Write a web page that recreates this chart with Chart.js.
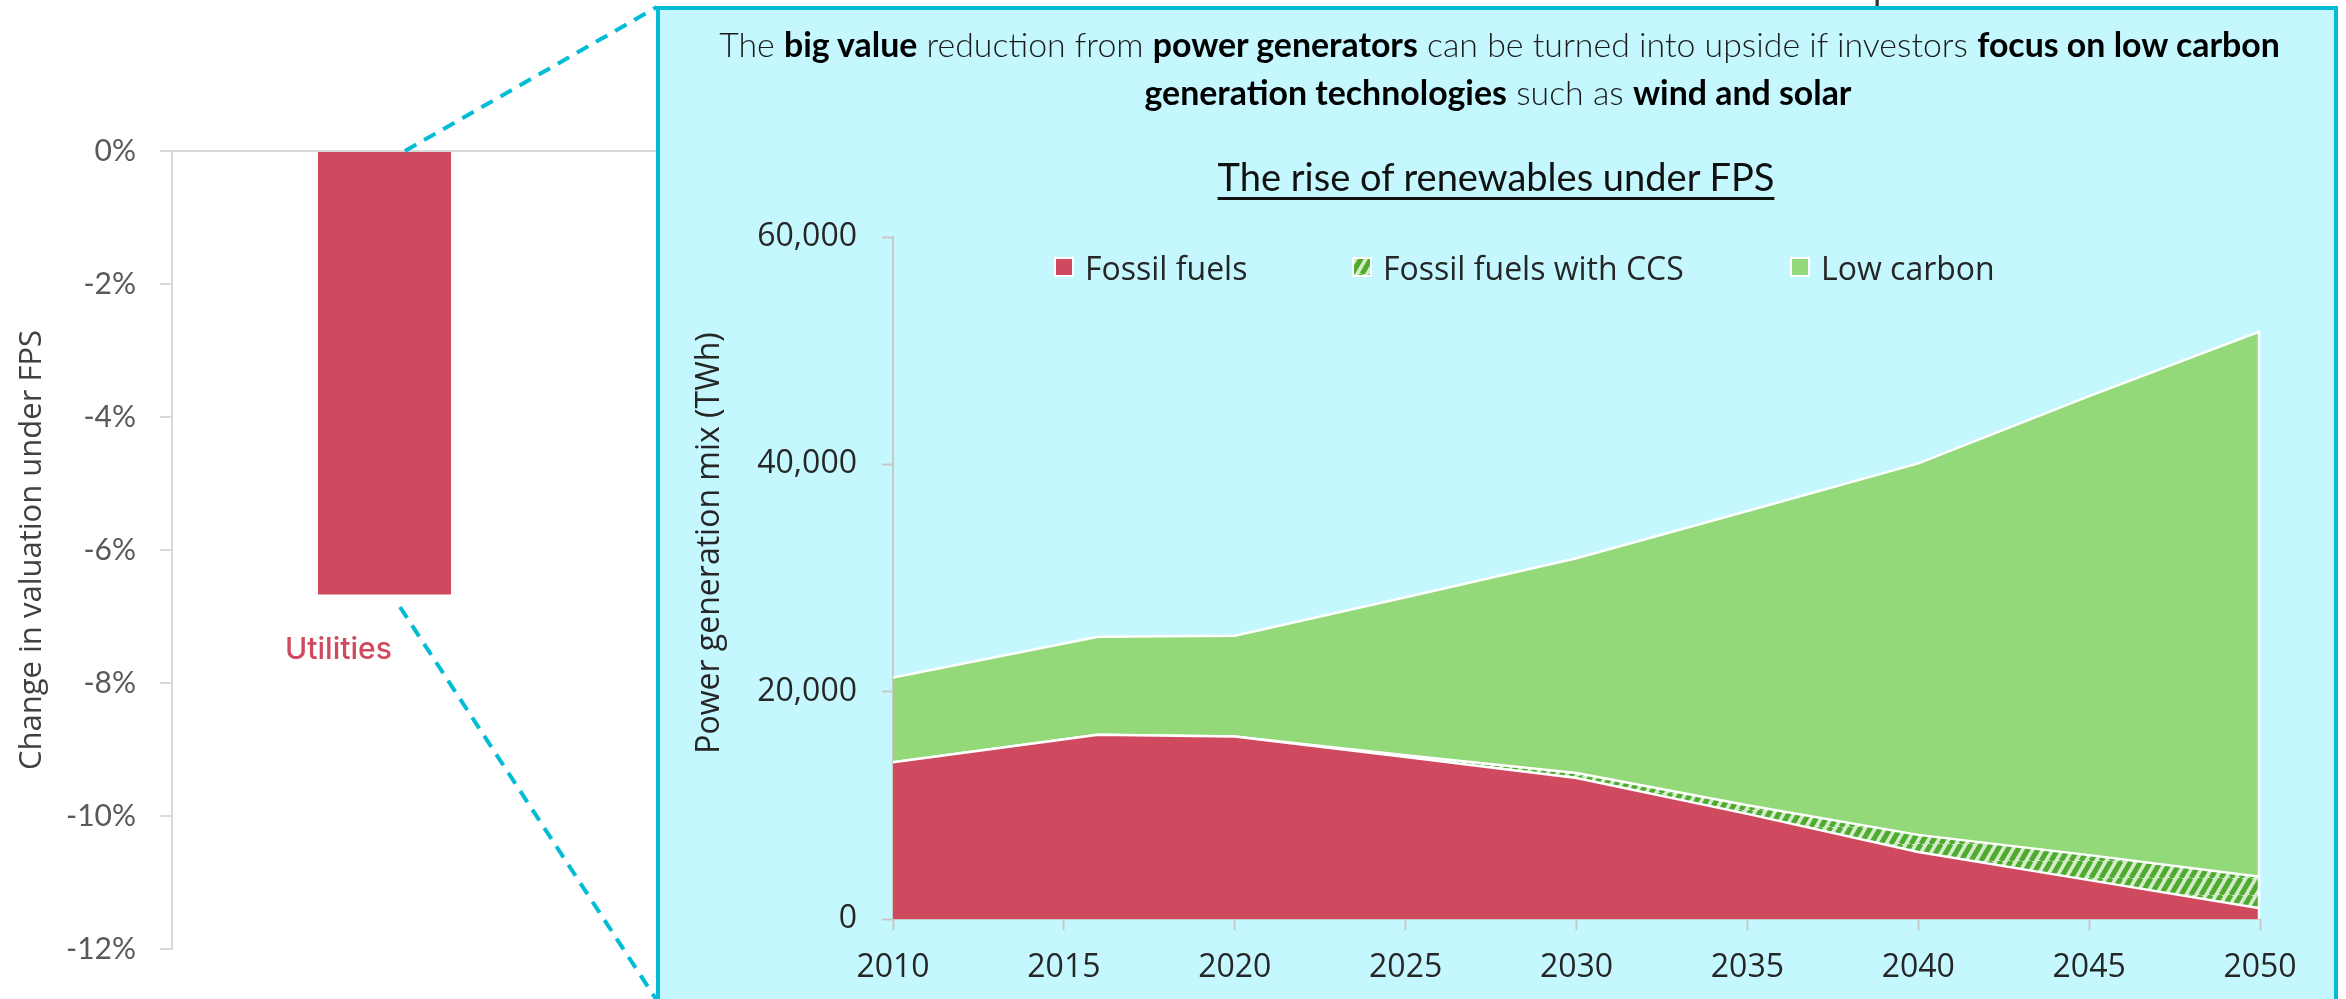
<!DOCTYPE html>
<html lang="en">
<head>
<meta charset="UTF-8">
<meta name="viewport" content="width=device-width, initial-scale=1.0">
<title>Utilities under FPS - power generation mix</title>
<script src="https://cdn.jsdelivr.net/npm/chart.js"></script>
<style>
  html, body { margin: 0; padding: 0; }
  body { position: relative; width: 2346px; height: 999px; overflow: hidden; background: #ffffff; }
  #valuationChart { position: absolute; left: 0; top: 0; z-index: 1; }
  #callouts { position: absolute; left: 0; top: 0; z-index: 2; }
  #cutGlyph { position: absolute; z-index: 2; white-space: nowrap; line-height: normal; font-family: Lato, sans-serif; font-size: 36px; color: #333; }
  #panel { position: absolute; left: 656px; top: 6px; width: 1674px; height: 1100px; border: 4px solid #00bcd4; background: #c4f8fe; z-index: 3; }
  #mixChart { position: absolute; left: 661px; top: 11px; z-index: 4; }
  .txt { position: absolute; z-index: 5; white-space: nowrap; line-height: normal; }
  .sub { font-family: Lato, sans-serif; font-weight: 300; font-size: 32px; color: #1a1a1a; }
  .sub b { font-weight: 700; color: #000; }
  #mixTitle { font-family: Lato, sans-serif; font-size: 36px; color: #111; text-decoration: underline; text-decoration-thickness: 3px; text-underline-offset: 6px; }
  #sectorLabel { font-family: Inter, sans-serif; font-weight: 500; font-size: 36px; color: #d04a5f; }
  #mixLegend { position: absolute; left: 0; top: 247px; z-index: 5; }
  .legend-item { position: absolute; top: 0; height: 40px; display: flex; align-items: center; white-space: nowrap; font-family: 'Open Sans', sans-serif; font-size: 32px; color: #262626; }
  .legend-item canvas { margin-right: 11px; }
</style>
</head>
<body>
<canvas id="valuationChart" width="1100" height="999"></canvas>
<svg id="callouts" width="2346" height="999">
  <line x1="405" y1="151" x2="657" y2="7" stroke="#00bcd4" stroke-width="4" stroke-dasharray="13 9"/>
  <line x1="400" y1="607" x2="656" y2="999" stroke="#00bcd4" stroke-width="4" stroke-dasharray="13 9"/>
</svg>
<span id="cutGlyph">p</span>
<div id="panel"></div>
<canvas id="mixChart" width="1674" height="988"></canvas>

<div class="txt sub" id="subLine1">The <b>big value</b> reduction from <b>power generators</b> can be turned into upside if investors <b>focus on low carbon</b></div>
<div class="txt sub" id="subLine2"><b>generation technologies</b> such as <b>wind and solar</b></div>
<div class="txt" id="mixTitle">The rise of renewables under FPS</div>
<div class="txt" id="sectorLabel">Utilities</div>
<div id="mixLegend"></div>

<script>
// valuation change by sector (%)
const sectors = ['Utilities', ''];
const valuationChange = [-6.67, null];

// power generation mix under FPS (TWh)
const years = [2010, 2016, 2020, 2025, 2030, 2035, 2040, 2045, 2050];
const fossilFuels = [13800, 16200, 16050, 14250, 12400, 9250, 5900, 3420, 940];
const fossilCCS = [0, 0, 0, 150, 450, 750, 1500, 2200, 2780];
const lowCarbon = [7450, 8630, 8870, 13900, 18890, 25900, 32680, 40380, 47980];
const mixLabels = ['Fossil fuels', 'Fossil fuels with CCS', 'Low carbon'];

const RED = '#d04a5f';
const GREEN = '#93d97a';
const AXIS_GREY = '#c8c8c8';

Chart.defaults.font.family = "'Open Sans', sans-serif";
Chart.defaults.color = '#262626';

// striped tile for the CCS band
const hatchTile = document.createElement('canvas');
hatchTile.width = 10;
hatchTile.height = 17;
(function () {
  const t = hatchTile.getContext('2d');
  t.fillStyle = '#d5ecca';
  t.fillRect(0, 0, 10, 17);
  t.strokeStyle = '#4fab2f';
  t.lineWidth = 5;
  for (let k = -1; k <= 1; k++) {
    t.beginPath();
    t.moveTo(k * 10, 17);
    t.lineTo(k * 10 + 10, 0);
    t.stroke();
  }
})();

const mixCtx = document.getElementById('mixChart').getContext('2d');
const hatch = mixCtx.createPattern(hatchTile, 'repeat');

const toPoints = vals => vals.map((v, i) => ({ x: years[i], y: v }));

// rotated axis caption drawn at a fixed spot
const sideTitle = {
  id: 'sideTitle',
  afterDraw(chart, args, opts) {
    const c = chart.ctx;
    c.save();
    c.translate(opts.x, opts.y);
    c.rotate(-Math.PI / 2);
    c.font = opts.font;
    c.fillStyle = opts.color;
    c.textAlign = 'center';
    c.textBaseline = 'middle';
    c.fillText(opts.text, 0, 0);
    c.restore();
  }
};

// white closing edge on the right side of the stacked areas
const stackEdge = {
  id: 'stackEdge',
  afterDatasetsDraw(chart) {
    const last = years.length - 1;
    const top = fossilFuels[last] + fossilCCS[last] + lowCarbon[last];
    const x = chart.scales.x.getPixelForValue(years[last]);
    const c = chart.ctx;
    c.save();
    c.strokeStyle = '#ffffff';
    c.lineWidth = 2.5;
    c.beginPath();
    c.moveTo(x - 1, chart.scales.y.getPixelForValue(0));
    c.lineTo(x - 1, chart.scales.y.getPixelForValue(top));
    c.stroke();
    c.restore();
  }
};

new Chart(document.getElementById('valuationChart'), {
  type: 'bar',
  data: {
    labels: sectors,
    datasets: [{
      data: valuationChange,
      backgroundColor: RED,
      barPercentage: 0.313,
      categoryPercentage: 1
    }]
  },
  options: {
    responsive: false,
    animation: false,
    events: [],
    layout: { padding: { left: 0, top: 151, right: 78, bottom: 50 } },
    plugins: { legend: { display: false }, tooltip: { enabled: false } },
    scales: {
      x: { display: false },
      y: {
        min: -12,
        max: 0,
        ticks: {
          stepSize: 2,
          callback: v => v + '%',
          color: '#595959',
          font: { family: 'Lato', size: 30 },
          padding: 24
        },
        grid: {
          color: c => (c.tick && c.tick.value === 0) ? '#d9d9d9' : 'rgba(0,0,0,0)',
          lineWidth: 2,
          tickLength: 12,
          tickColor: '#d9d9d9',
          tickWidth: 2
        },
        border: { color: '#d9d9d9', width: 2 },
        title: {
          display: true,
          text: 'Change in valuation under FPS',
          color: '#404040',
          font: { family: 'Open Sans', size: 31, weight: 'normal' },
          padding: { top: 14, bottom: 0 }
        },
        afterFit: s => { s.width = 172; }
      }
    }
  }
});

const mixChart = new Chart(mixCtx, {
  type: 'line',
  data: {
    datasets: [
      { label: mixLabels[0], data: toPoints(fossilFuels), backgroundColor: RED, fill: 'origin' },
      { label: mixLabels[1], data: toPoints(fossilCCS), backgroundColor: hatch, fill: '-1' },
      { label: mixLabels[2], data: toPoints(lowCarbon), backgroundColor: GREEN, fill: '-1' }
    ]
  },
  options: {
    responsive: false,
    animation: false,
    events: [],
    layout: { padding: { left: 10, top: 226, right: 75, bottom: 10 } },
    elements: {
      line: { borderColor: '#ffffff', borderWidth: 2.5, tension: 0 },
      point: { radius: 0 }
    },
    plugins: {
      legend: { display: false },
      tooltip: { enabled: false },
      sideTitle: {
        text: 'Power generation mix (TWh)',
        x: 49,
        y: 532,
        font: "32px 'Open Sans'",
        color: '#262626'
      }
    },
    scales: {
      x: {
        type: 'linear',
        min: 2010,
        max: 2050,
        ticks: {
          stepSize: 5,
          callback: v => String(v),
          font: { size: 32 },
          padding: 19,
          maxRotation: 0
        },
        grid: { drawOnChartArea: false, tickLength: 11, tickColor: AXIS_GREY, tickWidth: 2 },
        border: { color: AXIS_GREY, width: 2 },
        afterFit: s => { s.height = 70; }
      },
      y: {
        stacked: true,
        min: 0,
        max: 60000,
        ticks: {
          stepSize: 20000,
          callback: v => v.toLocaleString('en-US'),
          font: { size: 32 },
          padding: 25
        },
        grid: { drawOnChartArea: false, tickLength: 11, tickColor: AXIS_GREY, tickWidth: 2 },
        border: { color: AXIS_GREY, width: 2 },
        afterFit: s => { s.width = 222; }
      }
    }
  },
  plugins: [sideTitle, stackEdge]
});

// legend inside the plot, one swatch per series
const legendLefts = [1054, 1352, 1790];
const legendBox = document.getElementById('mixLegend');
mixChart.data.datasets.forEach((ds, i) => {
  const item = document.createElement('div');
  item.className = 'legend-item';
  item.style.left = legendLefts[i] + 'px';
  const sw = document.createElement('canvas');
  sw.width = 20;
  sw.height = 20;
  const g = sw.getContext('2d');
  g.fillStyle = ds.backgroundColor === hatch ? g.createPattern(hatchTile, 'repeat') : ds.backgroundColor;
  g.fillRect(0, 0, 20, 20);
  g.strokeStyle = '#ffffff';
  g.lineWidth = 2;
  g.strokeRect(1, 1, 18, 18);
  item.appendChild(sw);
  item.appendChild(document.createTextNode(ds.label));
  legendBox.appendChild(item);
});

// text placement by baseline, optionally scaling the font to a width
const probe = document.createElement('canvas').getContext('2d');
function ascentOf(el) {
  const cs = getComputedStyle(el);
  probe.font = cs.fontWeight + ' ' + cs.fontSize + ' ' + cs.fontFamily;
  return probe.measureText('Hg').fontBoundingBoxAscent;
}
function place(el, cx, baseline, width) {
  if (width) {
    const size = parseFloat(getComputedStyle(el).fontSize);
    el.style.fontSize = (size * width / el.getBoundingClientRect().width) + 'px';
  }
  const w = el.getBoundingClientRect().width;
  el.style.left = (cx - w / 2) + 'px';
  el.style.top = (baseline - ascentOf(el)) + 'px';
}

const line1 = document.getElementById('subLine1');
const line2 = document.getElementById('subLine2');
place(line1, 1499.5, 57, 1561);
line2.style.fontSize = line1.style.fontSize;
place(line2, 1498, 105);
place(document.getElementById('mixTitle'), 1496, 191, 557);
place(document.getElementById('sectorLabel'), 338.5, 659, 107);
place(document.getElementById('cutGlyph'), 1883, 0);
</script>
</body>
</html>
